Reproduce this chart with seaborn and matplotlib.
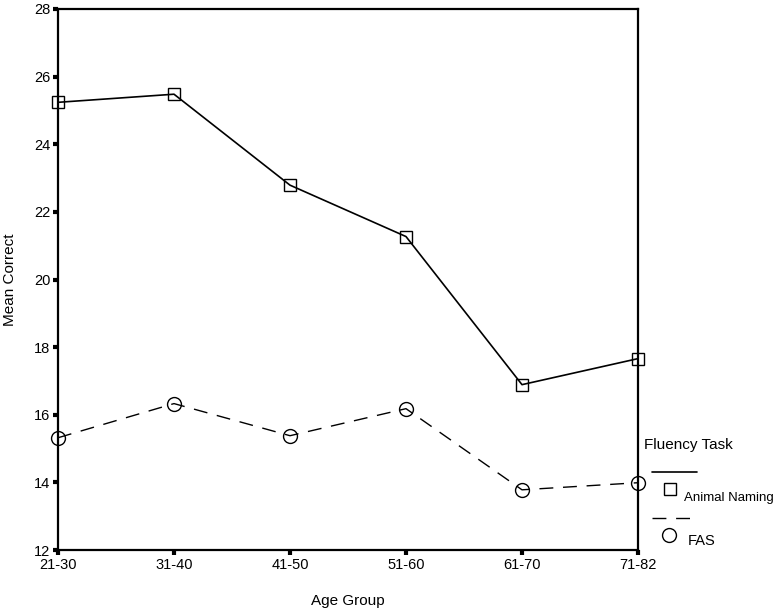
import matplotlib
matplotlib.use("Agg")
import matplotlib.pyplot as plt
import seaborn as sns
import pandas as pd
from matplotlib.lines import Line2D

age_groups = ["21-30", "31-40", "41-50", "51-60", "61-70", "71-82"]
animal_naming = [25.24, 25.48, 22.79, 21.27, 16.89, 17.66]
fas = [15.32, 16.33, 15.38, 16.18, 13.78, 13.99]
y_ticks = [12, 14, 16, 18, 20, 22, 24, 26, 28]

sns.set_style("white")
plt.rcParams["font.family"] = ["Liberation Sans", "DejaVu Sans"]
plt.rcParams["text.color"] = "black"
plt.rcParams["axes.labelcolor"] = "black"
plt.rcParams["xtick.color"] = "black"
plt.rcParams["ytick.color"] = "black"

df = pd.DataFrame({
    "Age Group": age_groups * 2,
    "Mean Correct": animal_naming + fas,
    "Fluency Task": ["Animal Naming"] * 6 + ["FAS"] * 6,
})
df["x"] = list(range(6)) * 2

fig = plt.figure(figsize=(7.83, 6.12), dpi=100)
ax = fig.add_axes([58/783, 1-550/612, (638-58)/783, (550-9)/612])

sns.lineplot(data=df[df["Fluency Task"] == "Animal Naming"], x="x", y="Mean Correct",
             ax=ax, color="black", lw=1.2, marker="s", markersize=8.5,
             markerfacecolor="none", markeredgecolor="black", markeredgewidth=1.0,
             clip_on=False, legend=False)
sns.lineplot(data=df[df["Fluency Task"] == "FAS"], x="x", y="Mean Correct",
             ax=ax, color="black", lw=1.0, marker="o", markersize=10,
             markerfacecolor="none", markeredgecolor="black", markeredgewidth=1.0,
             linestyle=(0, (10, 7)), clip_on=False, legend=False)

ax.set_xlim(0, 5)
ax.set_ylim(12, 28)
ax.set_xticks(range(6))
ax.set_xticklabels(age_groups)
ax.set_yticks(y_ticks)
ax.tick_params(axis="both", which="major", bottom=True, left=True, direction="out",
               length=3.5, width=3, color="black", labelcolor="black",
               labelsize=10.5, pad=2)
for s in ax.spines.values():
    s.set_color("black")
    s.set_linewidth(1.6)
ax.set_xlabel("Age Group", fontsize=11, labelpad=16, color="black")
ax.set_ylabel("Mean Correct", fontsize=11, labelpad=12, color="black")

# legend (outside, right)
fig.text(644/783, 1-445/612, "Fluency Task", fontsize=11, va="center", ha="left", color="black")
fig.add_artist(Line2D([652/783, 697/783], [1-472/612, 1-472/612], color="black", lw=1.2))
fig.add_artist(Line2D([670/783], [1-489/612], marker="s", markersize=8.5,
                      markerfacecolor="none", markeredgecolor="black", lw=0))
fig.text(684/783, 1-498/612, "Animal Naming", fontsize=9.5, va="center", ha="left", color="black")
fig.add_artist(Line2D([652/783, 697/783], [1-518/612, 1-518/612], color="black", lw=1.0,
                      linestyle=(0, (10, 7))))
fig.add_artist(Line2D([669/783], [1-535/612], marker="o", markersize=10,
                      markerfacecolor="none", markeredgecolor="black", lw=0))
fig.text(688/783, 1-541/612, "FAS", fontsize=10.5, va="center", ha="left", color="black")

fig.savefig("out.png", dpi=100)
